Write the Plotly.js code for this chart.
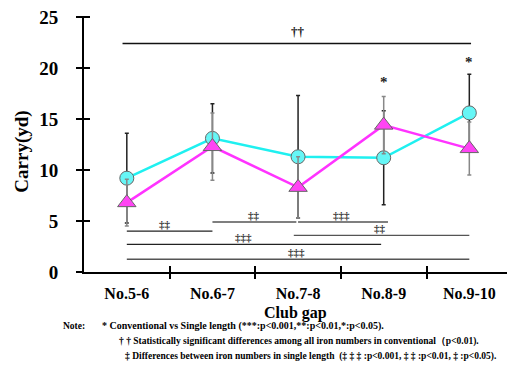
<!DOCTYPE html>
<html>
<head>
<meta charset="utf-8">
<script src="https://cdn.plot.ly/plotly-3.0.1.min.js"></script>
<style>html,body{margin:0;padding:0;background:#fff;}#chart{width:507px;height:367px;}</style>
</head>
<body>
<div id="chart"></div>
<script>
// ---- data ----
const categories = ["No.5-6", "No.6-7", "No.7-8", "No.8-9", "No.9-10"];
const conventional = [9.2, 13.1, 11.3, 11.2, 15.6];
const conventionalSD = [4.4, 3.4, 6.0, 4.6, 3.8];
const singleLength = [6.8, 12.3, 8.3, 14.4, 12.1];
const singleLengthSD = [2.3, 3.3, 3.0, 2.8, 2.6];
const yTicks = [0, 5, 10, 15, 20, 25];

// significance marks (category index spans, level in yd, label)
const starCats = [3, 4];
const starLevels = [18.6, 20.6];
const daggerFrom = [-0.05];
const daggerTo = [4.02];
const daggerLevel = [22.4];
const daggerLabel = ["††"];
const sigFrom = [0, 1, 2, 1.95, 0, 0];
const sigTo = [1, 1.98, 3.05, 4, 2.97, 4];
const sigLevel = [4.0, 4.9, 4.9, 3.6, 2.7, 1.25];
const sigLabelAt = [0.45, 1.48, 2.51, 2.96, 1.36, 1.98];
const sigLabel = ["‡‡", "‡‡", "‡‡‡", "‡‡", "‡‡‡", "‡‡‡"];
const sigColor = ["#222", "#555", "#555", "#555", "#222", "#555"];

const noteLines = [
  "* Conventional vs Single length (***:p<0.001,**:p<0.01,*:p<0.05).",
  "† † Statistically significant differences among all iron numbers in conventional（p<0.01).",
  "‡ Differences between iron numbers in single length  (‡ ‡ ‡ :p<0.001, ‡ ‡ :p<0.01, ‡ :p<0.05)."
];

const serif = '"Liberation Serif", "Times New Roman", serif';
const catIdx = categories.map((_, i) => i);

const traces = [
  {
    x: catIdx, y: conventional, type: 'scatter', mode: 'lines+markers',
    name: 'Conventional',
    line: {color: '#1ff0f0', width: 2.5},
    marker: {symbol: 'circle', size: 14, color: '#66f6f6', line: {color: '#666', width: 1}},
    error_y: {type: 'data', array: conventionalSD, visible: true, color: '#222', thickness: 1.5, width: 2}
  },
  {
    x: catIdx, y: singleLength, type: 'scatter', mode: 'lines+markers',
    name: 'Single length',
    line: {color: '#ff33ff', width: 2.5},
    marker: {symbol: 'triangle-up', size: 16, color: '#ff44f4', line: {color: '#666', width: 1}},
    error_y: {type: 'data', array: singleLengthSD, visible: true, color: '#888', thickness: 1.5, width: 2}
  }
];

const shapes = [];
const annotations = [];

daggerFrom.forEach((f, i) => {
  shapes.push({type: 'line', xref: 'x', yref: 'y', x0: f, x1: daggerTo[i], y0: daggerLevel[i], y1: daggerLevel[i],
    line: {color: '#111', width: 1.5}});
  annotations.push({xref: 'x', yref: 'y', x: 2, y: daggerLevel[i], xanchor: 'center', yanchor: 'bottom', yshift: 3,
    text: daggerLabel[i], showarrow: false, font: {family: serif, size: 13, color: '#222', weight: 'bold'}});
});

sigFrom.forEach((f, i) => {
  shapes.push({type: 'line', xref: 'x', yref: 'y', x0: f, x1: sigTo[i], y0: sigLevel[i], y1: sigLevel[i],
    line: {color: sigColor[i], width: 1.3}});
  annotations.push({xref: 'x', yref: 'y', x: sigLabelAt[i], y: sigLevel[i], xanchor: 'center', yanchor: 'bottom', yshift: -1,
    text: sigLabel[i], showarrow: false, font: {family: serif, size: 11, color: '#333', weight: 'bold'}});
});

starCats.forEach((c, i) => {
  annotations.push({xref: 'x', yref: 'y', x: c, y: starLevels[i], xanchor: 'center', yanchor: 'middle', text: '*', showarrow: false,
    font: {family: serif, size: 15, color: '#222', weight: 'bold'}});
});

// axis titles
annotations.push({xref: 'paper', yref: 'paper', x: 0.5, y: (271.7 - 312.5) / 255.7, xanchor: 'center', yanchor: 'middle',
  text: 'Club gap', showarrow: false, font: {family: serif, size: 16, color: '#000', weight: 'bold'}});
annotations.push({xref: 'paper', yref: 'paper', x: (22 - 84) / 423, y: 0.47, xanchor: 'center', yanchor: 'middle',
  text: 'Carry(yd)', textangle: -90,
  showarrow: false, font: {family: serif, size: 19, color: '#000', weight: 'bold'}});

// notes
annotations.push({xref: 'paper', yref: 'paper', x: (61 - 84) / 423, y: (271.7 - 325.5) / 255.7, xanchor: 'left', yanchor: 'middle',
  text: 'Note:', showarrow: false, font: {family: serif, size: 9.5, color: '#000', weight: 'bold'}});
const noteX = [100, 117, 123];
const noteY = [325.5, 341, 356];
const noteSize = [10, 9.5, 9.5];
noteLines.forEach((t, i) => {
  annotations.push({xref: 'paper', yref: 'paper', x: (noteX[i] - 84) / 423, y: (271.7 - noteY[i]) / 255.7,
    xanchor: 'left', yanchor: 'middle',
    text: t.replace(/</g, '&lt;'), showarrow: false, font: {family: serif, size: noteSize[i], color: '#000', weight: 'bold'}});
});

const xr = [-0.5, 4.44];
const yr = [0, 25.1];
const layout = {
  width: 507, height: 367,
  margin: {l: 84, r: 0, t: 16, b: 95.3},
  paper_bgcolor: '#fff', plot_bgcolor: '#fff',
  showlegend: false,
  font: {family: serif, color: '#000'},
  xaxis: {
    type: 'linear', range: xr, tickmode: 'array', tickvals: catIdx, ticktext: categories,
    ticks: '', showgrid: false, zeroline: false,
    showline: true, linecolor: '#000', linewidth: 2,
    tickfont: {family: serif, size: 16, color: '#000', weight: 'bold'}, ticklabelstandoff: 6
  },
  xaxis2: {
    overlaying: 'x', type: 'linear', range: xr, tickmode: 'array', tickvals: [0.5, 1.5, 2.5, 3.5],
    showticklabels: false, ticks: 'outside', ticklen: 6, tickwidth: 2, tickcolor: '#000',
    showgrid: false, zeroline: false, showline: false, anchor: 'y', side: 'bottom'
  },
  xaxis3: {
    overlaying: 'x', type: 'linear', range: xr, tickmode: 'array', tickvals: [0.5, 1.5, 2.5, 3.5],
    showticklabels: false, ticks: 'inside', ticklen: 6, tickwidth: 2, tickcolor: '#000',
    showgrid: false, zeroline: false, showline: false, anchor: 'y', side: 'bottom'
  },
  yaxis: {
    range: yr, tickmode: 'array', tickvals: yTicks, ticktext: yTicks.map(String),
    ticks: 'outside', ticklen: 6, tickwidth: 2, tickcolor: '#000',
    showgrid: false, zeroline: false, showline: true, linecolor: '#000', linewidth: 2,
    tickfont: {family: serif, size: 19, color: '#000', weight: 'bold'}, ticklabelstandoff: 14
  },
  yaxis2: {
    overlaying: 'y', range: yr, tickmode: 'array', tickvals: yTicks, showticklabels: false,
    ticks: 'inside', ticklen: 6, tickwidth: 2, tickcolor: '#000',
    showgrid: false, zeroline: false, showline: false, anchor: 'x', side: 'left'
  },
  shapes: shapes,
  annotations: annotations
};

// invisible helper traces to activate overlay tick axes
traces.unshift({x: [0], y: [0], xaxis: 'x2', yaxis: 'y', mode: 'markers', marker: {opacity: 0}, hoverinfo: 'skip'});
traces.unshift({x: [0], y: [0], xaxis: 'x3', yaxis: 'y', mode: 'markers', marker: {opacity: 0}, hoverinfo: 'skip'});
traces.unshift({x: [0], y: [0], xaxis: 'x', yaxis: 'y2', mode: 'markers', marker: {opacity: 0}, hoverinfo: 'skip'});

Plotly.newPlot('chart', traces, layout, {staticPlot: true, displayModeBar: false});
</script>
</body>
</html>
